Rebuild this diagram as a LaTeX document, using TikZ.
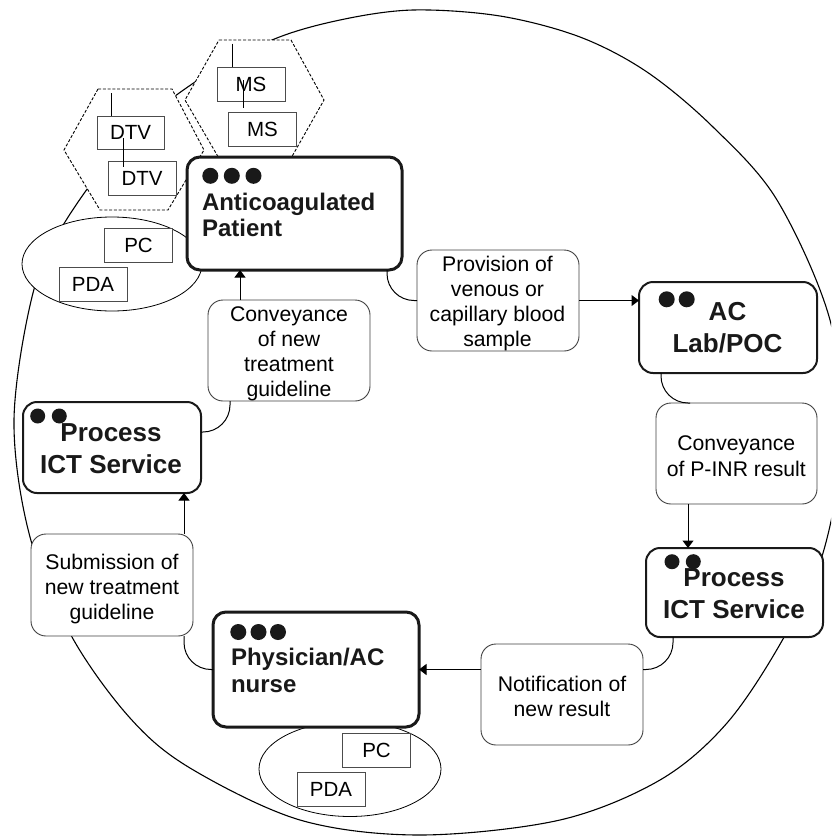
\documentclass[tikz,border=0pt]{standalone}
\usepackage{fontspec}
\setmainfont{Liberation Sans}
\usetikzlibrary{arrows.meta}

\begin{document}
\begin{tikzpicture}[x=1pt,y=-1pt,
  every node/.style={inner sep=0pt, outer sep=0pt},
  actor/.style={draw=black!90, line width=3pt, rounded corners=13pt, fill=white},
  service/.style={draw=black!90, line width=2pt, rounded corners=14pt, fill=white},
  msg/.style={draw=black!75, line width=0.9pt, rounded corners=15pt, fill=white},
  device/.style={draw=black!70, line width=0.9pt, fill=white, minimum width=68pt,
    minimum height=34pt, font=\fontsize{20.5}{24}\selectfont, text height=14.7pt, text depth=0pt},
  group/.style={draw=black, line width=0.8pt, fill=white},
  cloud/.style={draw=black, line width=0.9pt, dash pattern=on 3pt off 1.8pt, fill=white},
  ring/.style={draw=black, line width=1.1pt},
  link/.style={draw=black, line width=1pt, rounded corners=27pt},
  flow/.style={draw=black, line width=1pt, -{Triangle[length=7.5pt,width=11pt]}},
  bullet/.style={fill=black!90, circle, minimum size=16pt},
  smallbullet/.style={fill=black!90, circle, minimum size=15pt},
  roletxt/.style={font=\fontsize{24}{26}\selectfont\bfseries, text=black!90},
  proctxt/.style={font=\fontsize{26}{31}\selectfont\bfseries, text=black!90},
  msgtxt/.style={font=\fontsize{21.2}{25}\selectfont},
]
\useasboundingbox (0,0) rectangle (831,836);
\clip (0,0) rectangle (831,836);

% the care cycle ring, behind everything
\draw[ring] plot[smooth cycle, tension=0.55] coordinates {
  (413,10) (500,16) (580,37) (647,72) (713,127) (777,200) (830,320) (842,440)
  (823,553) (783,639) (727,723) (660,780) (560,820) (420,835) (300,820) (190,768)
  (130,718) (72,637) (30,537) (14,420) (33,293) (65,222) (130,135) (198,80)
  (272,40) (340,20)};

% device groups around the patient and the physician
\draw[group] (112,264) ellipse [x radius=90, y radius=47];
\draw[group] (350,769) ellipse [x radius=91, y radius=47.5];

% home equipment clouds
\draw[cloud] (98,89) -- (172,89) -- (204,150) -- (168,210) -- (100,210) -- (64,150) -- cycle;
\draw[cloud] (219,40) -- (291,40) -- (324,100) -- (290,160) -- (220,160) -- (185,100) -- cycle;

% devices
\node[device] (ppc)  at (138.5,245)  {PC};
\node[device] (ppda) at (93,284.5)   {PDA};
\node[device, minimum width=67pt, minimum height=33pt] (dtv1) at (130.5,132.5) {DTV};
\node[device] (dtv2) at (142,178)    {DTV};
\node[device] (ms1)  at (251,84)     {MS};
\node[device] (ms2)  at (262.5,129)  {MS};
\node[device] (npc)  at (376.5,750)  {PC};
\node[device] (npda) at (331,789.5)  {PDA};

\coordinate (dtvbus) at (111.7,93);
\coordinate (msbus) at (232.3,43.5);
\draw[line width=0.9pt] (dtvbus) -- (dtvbus |- dtv1.north);
\draw[line width=0.9pt] (msbus) -- (msbus |- ms1.north);
\draw[line width=0.9pt] ([shift={(-7.2,5.8)}]dtv1.center) -- ([shift={(-7.2,5.8)}]dtv1.center |- dtv2.north);
\draw[line width=0.9pt] ([shift={(-7.7,-4)}]ms1.center) -- ([shift={(-7.7,-4)}]ms1.center |- ms2.north);

% actors and services
\node[actor, minimum width=215pt, minimum height=113pt] (pat) at (294.5,213.5) {};
\node[service, minimum width=178pt, minimum height=91pt] (lab) at (728,327.5) {};
\node[service, minimum width=177pt, minimum height=89pt] (ictR) at (734.5,592.5) {};
\node[actor, minimum width=206pt, minimum height=115pt] (phys) at (316,669.5) {};
\node[service, minimum width=178pt, minimum height=91pt] (ictL) at (112,447.5) {};

% messages
\node[msg, minimum width=162pt, minimum height=101pt] (prov)  at (498,300.5) {};
\node[msg, minimum width=161pt, minimum height=101pt] (conv1) at (736.5,453.5) {};
\node[msg, minimum width=162pt, minimum height=101pt] (notif) at (562,694.5) {};
\node[msg, minimum width=162pt, minimum height=102pt] (sub)   at (112,585) {};
\node[msg, minimum width=162pt, minimum height=101pt] (conv2) at (289,350.5) {};

% actor texts
\node[bullet] (patd1) at (210.3,175.8) {};
\node[bullet] (patd2) at (231.8,175.8) {};
\node[bullet] (patd3) at (253.5,175.8) {};
\node[roletxt, anchor=base west] (patl1) at (202,210) {Anticoagulated};
\node[roletxt, anchor=base west] (patl2) at (202,236) {Patient};

\node[bullet] (physd1) at (238.3,632) {};
\node[bullet] (physd2) at (258.5,632) {};
\node[bullet] (physd3) at (278,632) {};
\node[roletxt, anchor=base west] (physl1) at (231,665) {Physician/AC};
\node[roletxt, anchor=base west] (physl2) at (231,692) {nurse};

\node[bullet] (labd1) at (666.7,299.3) {};
\node[bullet] (labd2) at (686.7,299.3) {};
\node[proctxt, anchor=base] (labl1) at (727.5,320.5) {AC};
\node[proctxt, anchor=base] (labl2) at (727.5,352.5) {Lab/POC};

\node[smallbullet] (ictRd1) at (672,561.7) {};
\node[smallbullet] (ictRd2) at (693.3,561.7) {};
\node[proctxt, anchor=base] (ictRl1) at (734,586.7) {Process};
\node[proctxt, anchor=base] (ictRl2) at (734,618.3) {ICT Service};

\node[smallbullet] (ictLd1) at (37.7,416) {};
\node[smallbullet] (ictLd2) at (59.3,416) {};
\node[proctxt, anchor=base] (ictLl1) at (111,441.7) {Process};
\node[proctxt, anchor=base] (ictLl2) at (111,473.3) {ICT Service};

% message texts
\node[msgtxt, anchor=base] (provl1) at (497.5,271.7) {Provision of};
\node[msgtxt, anchor=base] (provl2) at (497.5,296.7) {venous or};
\node[msgtxt, anchor=base] (provl3) at (497.5,321.7) {capillary blood};
\node[msgtxt, anchor=base] (provl4) at (497.5,346.7) {sample};

\node[msgtxt, anchor=base] (conv1l1) at (736.3,450.7) {Conveyance};
\node[msgtxt, anchor=base] (conv1l2) at (736.3,476) {of P-INR result};

\node[msgtxt, anchor=base] (notifl1) at (562,691.7) {Notification of};
\node[msgtxt, anchor=base] (notifl2) at (562,716.5) {new result};

\node[msgtxt, anchor=base] (subl1) at (112,569.3) {Submission of};
\node[msgtxt, anchor=base] (subl2) at (112,594.3) {new treatment};
\node[msgtxt, anchor=base] (subl3) at (112,619.3) {guideline};

\node[msgtxt, anchor=base] (conv2l1) at (289,321.7) {Conveyance};
\node[msgtxt, anchor=base] (conv2l2) at (289,346.7) {of new};
\node[msgtxt, anchor=base] (conv2l3) at (289,371.7) {treatment};
\node[msgtxt, anchor=base] (conv2l4) at (289,396.7) {guideline};

% connectors around the cycle
\draw[link] ([xshift=-15pt]pat.south east) |- (prov.west);
\draw[flow] (prov.east) -- (prov.east -| lab.west);

\draw[link] ([xshift=22pt]lab.south west) |- ([xshift=34pt]conv1.north west);
\draw[flow] ([xshift=32pt]conv1.south west) -- ([xshift=32pt]conv1.south west |- ictR.north);

\draw[link] ([xshift=27pt]ictR.south west) |- (notif.east |- phys.east);
\draw[flow] (notif.west |- phys.east) -- (phys.east);

\draw[link] ([xshift=-9pt]sub.south east) |- (phys.west);
\draw[flow] ([xshift=-9pt]sub.north east) -- ([xshift=-9pt]sub.north east |- ictL.south);

\draw[link] ([yshift=15.5pt]ictL.east) -| ([xshift=22pt]conv2.south west);
\draw[flow] ([xshift=32pt]conv2.north west) -- ([xshift=32pt]conv2.north west |- pat.south);
\end{tikzpicture}
\end{document}
